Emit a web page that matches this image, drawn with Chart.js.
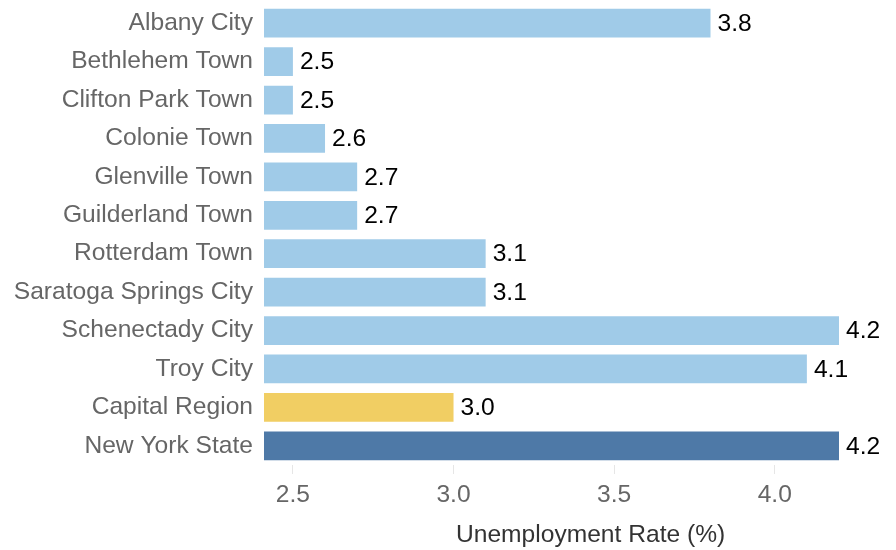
<!DOCTYPE html>
<html>
<head>
<meta charset="utf-8">
<script src="https://cdn.jsdelivr.net/npm/chart.js@4.4.1/dist/chart.umd.min.js"></script>
<style>
  html, body { margin: 0; padding: 0; background: #fff; }
  #wrap { width: 896px; height: 550px; }
</style>
</head>
<body>
<div id="wrap"><canvas id="myChart" width="896" height="550"></canvas></div>
<script>
// data
const places = ['Albany City', 'Bethlehem Town', 'Clifton Park Town', 'Colonie Town',
  'Glenville Town', 'Guilderland Town', 'Rotterdam Town', 'Saratoga Springs City',
  'Schenectady City', 'Troy City', 'Capital Region', 'New York State'];
const rates = [3.8, 2.5, 2.5, 2.6, 2.7, 2.7, 3.1, 3.1, 4.2, 4.1, 3.0, 4.2];
const xTicks = [2.5, 3.0, 3.5, 4.0];
const axisTitle = 'Unemployment Rate (%)';

const cityColor = '#a0cbe8';
const regionColor = '#f1ce63';
const stateColor = '#4e79a7';

let barColors = places.map(function(p) {
  if (p === 'Capital Region') return regionColor;
  if (p === 'New York State') return stateColor;
  return cityColor;
});

const font = 'Liberation Sans, Arial, Helvetica, sans-serif';
const fontSize = 24.6;

// value text at the end of each bar
const valueLabels = {
  id: 'valueLabels',
  afterDatasetsDraw(chart) {
    const ctx = chart.ctx;
    const meta = chart.getDatasetMeta(0);
    ctx.save();
    ctx.font = fontSize + 'px ' + font;
    ctx.fillStyle = '#000';
    ctx.textAlign = 'left';
    ctx.textBaseline = 'middle';
    meta.data.forEach(function(bar, i) {
      ctx.fillText(rates[i].toFixed(1), bar.x + 7, bar.y + 1);
    });
    ctx.restore();
  }
};

// x axis title, sits a bit right of the plot centre in the original
const xTitle = {
  id: 'xTitle',
  afterDraw(chart) {
    const ctx = chart.ctx;
    const a = chart.chartArea;
    ctx.save();
    ctx.font = fontSize + 'px ' + font;
    ctx.fillStyle = '#333';
    ctx.textAlign = 'center';
    ctx.textBaseline = 'middle';
    ctx.fillText(axisTitle, a.left + (a.right - a.left) * 0.568, 535);
    ctx.restore();
  }
};

var ctx = document.getElementById('myChart').getContext('2d');
var chart = new Chart(ctx, {
  type: 'bar',
  data: {
    labels: places,
    datasets: [{
      data: rates,
      backgroundColor: barColors,
      borderWidth: 0,
      barPercentage: 0.75,
      categoryPercentage: 1.0
    }]
  },
  options: {
    indexAxis: 'y',
    responsive: false,
    animation: false,
    layout: { padding: { top: 4, right: 57, bottom: 0, left: 0 } },
    plugins: {
      legend: { display: false },
      tooltip: { enabled: false }
    },
    scales: {
      x: {
        min: 2.41,
        max: 4.2,
        afterBuildTicks: function(scale) {
          scale.ticks = xTicks.map(v => ({ value: v }));
        },
        afterFit: function(scale) { scale.height = 85; },
        border: { display: false },
        grid: {
          drawOnChartArea: false,
          drawTicks: true,
          tickLength: 9,
          color: '#e6e6e6',
          lineWidth: 1
        },
        ticks: {
          color: '#666',
          font: { family: font, size: fontSize },
          padding: 6,
          maxRotation: 0,
          callback: function(v) { return Number(v).toFixed(1); }
        }
      },
      y: {
        afterFit: function(scale) {
          scale.width = 264;
          // labels shouldn't push the plot down
          scale.paddingTop = 0;
          scale.paddingBottom = 0;
        },
        border: { display: false },
        grid: { display: false, drawTicks: false },
        ticks: {
          color: '#666',
          font: { family: font, size: fontSize },
          padding: 11
        }
      }
    }
  },
  plugins: [valueLabels, xTitle]
});
</script>
</body>
</html>
